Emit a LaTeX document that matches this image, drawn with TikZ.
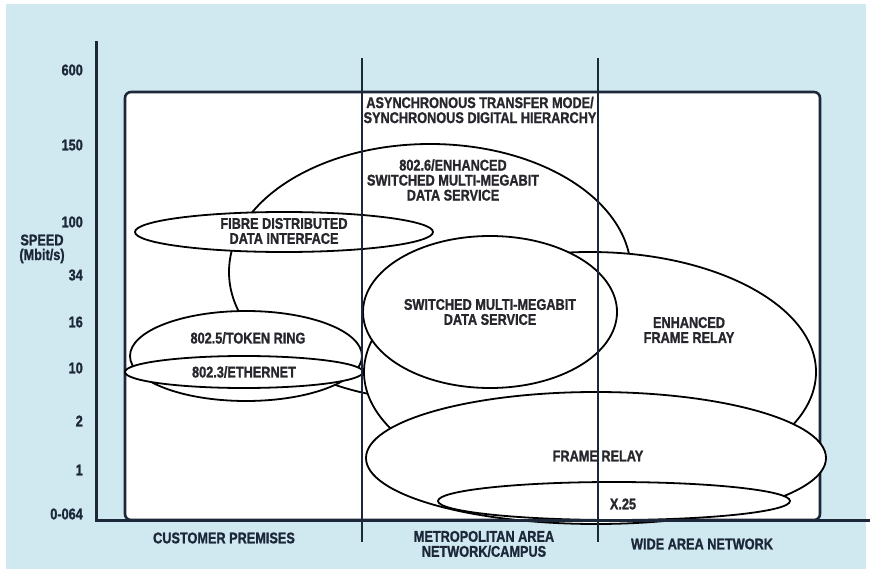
\documentclass[tikz,border=0pt]{standalone}
\usepackage{fontspec}
\setmainfont[FakeStretch=0.82, BoldFeatures={FakeBold=1.2}]{Liberation Sans}

\definecolor{paleblue}{RGB}{208,232,239}
\definecolor{navy}{RGB}{28,40,58}
\definecolor{ink}{RGB}{38,38,44}

\begin{document}
\begin{tikzpicture}[x=1pt,y=-1pt,
  lbl/.style={font=\fontsize{15.5}{15}\selectfont\bfseries, text=ink, align=center, inner sep=0pt},
  axlbl/.style={lbl, text=navy},
  blob/.style={draw=black, fill=white, line width=1.8pt},
  axisline/.style={draw=navy, line width=3pt},
  divider/.style={draw=navy, line width=2pt}]

  % 1. Page and the white ATM/SDH area
  \fill[white] (0,0) rectangle (875,569);
  \fill[paleblue] (6,4) rectangle (866,569);
  \draw[draw=navy, line width=2.6pt, fill=white, rounded corners=6pt] (125,92) rectangle (820,520);

  % 2. Technology areas, back to front
  \draw[blob] (430,272) ellipse [x radius=201pt, y radius=128pt]; % 802.6
  \draw[blob] (590,372) ellipse [x radius=226pt, y radius=120pt]; % enhanced frame relay
  \draw[blob] (490,312) ellipse [x radius=127pt, y radius=76pt];  % SMDS
  \draw[blob] (284,232) ellipse [x radius=149pt, y radius=20pt];  % FDDI
  \draw[blob] (246,356) ellipse [x radius=116pt, y radius=45pt];  % token ring
  \draw[blob] (244,372) ellipse [x radius=119pt, y radius=16pt];  % ethernet
  \draw[blob] (596,458) ellipse [x radius=230pt, y radius=66pt];  % frame relay
  \draw[blob] (614,501) ellipse [x radius=176pt, y radius=19pt];  % X.25

  % 3. Labels of the areas
  \node[lbl] (atm) at (480,110) {ASYNCHRONOUS TRANSFER MODE/\\SYNCHRONOUS DIGITAL HIERARCHY};
  \node[lbl] (dqdb) at (453,180) {802.6/ENHANCED\\SWITCHED MULTI-MEGABIT\\DATA SERVICE};
  \node[lbl] (fddi) at (284,231) {FIBRE DISTRIBUTED\\DATA INTERFACE};
  \node[lbl] (smds) at (490,312) {SWITCHED MULTI-MEGABIT\\DATA SERVICE};
  \node[lbl] (efr) at (689,330) {ENHANCED\\FRAME RELAY};
  \node[lbl] (token) at (248,338) {802.5/TOKEN RING};
  \node[lbl] (ether) at (244,372) {802.3/ETHERNET};
  \node[lbl] (fr) at (598,456) {FRAME RELAY};
  \node[lbl] (xtwentyfive) at (623,504) {X.25};

  % 4. Region dividers and axes
  \draw[divider] (362,58) -- (362,542);
  \draw[divider] (598,58) -- (598,542);
  \draw[axisline] (96,41) -- (96,520) -- (870,520);

  % 5. Speed scale
  \foreach \val/\ypos in {600/70, 150/145, 100/222, 34/275, 16/322, 10/368, 2/421, 1/470, 0-064/514}
    \node[axlbl, anchor=east] (tick\ypos) at (83,\ypos) {\val};
  \node[axlbl] (speed) at (42,240) {SPEED};
  \node[axlbl] (unit) at (42,256) {(Mbit/s)};

  % 6. Network regions
  \node[axlbl] (cpe) at (224,538) {CUSTOMER PREMISES};
  \node[axlbl] (man) at (484,544) {METROPOLITAN AREA\\NETWORK/CAMPUS};
  \node[axlbl] (wan) at (702,544) {WIDE AREA NETWORK};
\end{tikzpicture}
\end{document}
